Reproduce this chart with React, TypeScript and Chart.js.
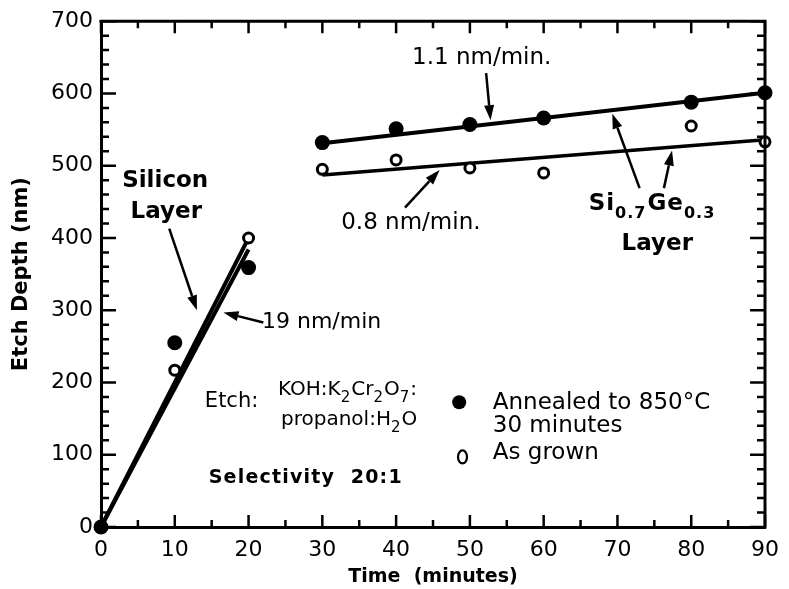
import React, { useEffect, useRef } from "react";
import { Chart, registerables } from "chart.js";

Chart.register(...registerables);

// ---- data ----
const annealedTime = [0, 10, 20, 30, 40, 50, 60, 80, 90];
const annealedDepth = [0, 255, 359, 532, 551, 557, 566, 588, 601];
const grownTime = [0, 10, 20, 30, 40, 50, 60, 80, 90];
const grownDepth = [0, 217, 400, 495, 508, 497, 490, 555, 533];

const siFitATime = [0, 20];
const siFitADepth = [0, 400];
const siFitBTime = [0, 20];
const siFitBDepth = [0, 384];
const sigeAnnealedFitTime = [30, 90];
const sigeAnnealedFitDepth = [531, 601];
const sigeGrownFitTime = [30, 90];
const sigeGrownFitDepth = [487, 536];

const xTickValues = [0, 10, 20, 30, 40, 50, 60, 70, 80, 90];
const yTickValues = [0, 100, 200, 300, 400, 500, 600, 700];

const xTitle = "Time  (minutes)";
const yTitle = "Etch Depth (nm)";
const legendAnnealed = ["Annealed to 850°C", "30 minutes"];
const legendGrown = "As grown";

const FONT = "'DejaVu Sans', sans-serif";

const toPts = (xs: number[], ys: number[]) => xs.map((x, i) => ({ x, y: ys[i] }));

type Seg = { t: string; sub?: boolean };

// annotation texts (positions in data units)
const textNotes: { x: number; y: number; text: string; size: number; bold?: boolean; align?: CanvasTextAlign; spacing?: number }[] = [
  { x: 51.6, y: 649, text: "1.1 nm/min.", size: 23 },
  { x: 42.0, y: 421, text: "0.8 nm/min.", size: 23 },
  { x: 8.7, y: 479, text: "Silicon", size: 23, bold: true },
  { x: 8.85, y: 436, text: "Layer", size: 23, bold: true },
  { x: 29.9, y: 283, text: "19 nm/min", size: 22 },
  { x: 75.4, y: 392, text: "Layer", size: 23, bold: true },
  { x: 17.7, y: 174, text: "Etch:", size: 21 },
  { x: 53.1, y: 171, text: legendAnnealed[0], size: 23, align: "left" },
  { x: 53.1, y: 140, text: legendAnnealed[1], size: 23, align: "left" },
  { x: 53.1, y: 102, text: legendGrown, size: 23, align: "left" },
  { x: 14.6, y: 68, text: "Selectivity  20:1", size: 19, bold: true, align: "left", spacing: 1.2 },
];

const richNotes: { x: number; y: number; segs: Seg[]; size: number; subSize: number; bold?: boolean; spacing?: number }[] = [
  {
    x: 66.1, y: 447, size: 23, subSize: 16, bold: true, spacing: 1,
    segs: [{ t: "Si" }, { t: "0.7", sub: true }, { t: "Ge" }, { t: "0.3", sub: true }],
  },
  {
    x: 24.0, y: 190.5, size: 20, subSize: 15,
    segs: [{ t: "KOH:K" }, { t: "2", sub: true }, { t: "Cr" }, { t: "2", sub: true }, { t: "O" }, { t: "7", sub: true }, { t: ":" }],
  },
  {
    x: 24.4, y: 149, size: 20, subSize: 15,
    segs: [{ t: "propanol:H" }, { t: "2", sub: true }, { t: "O" }],
  },
];

// arrows: tail -> head, in data units
const arrows = [
  { x1: 52.2, y1: 628, x2: 52.8, y2: 563 },
  { x1: 41.2, y1: 442, x2: 45.9, y2: 494 },
  { x1: 9.25, y1: 413, x2: 13.0, y2: 300 },
  { x1: 22.0, y1: 283, x2: 16.6, y2: 297 },
  { x1: 73.0, y1: 469, x2: 69.3, y2: 572 },
  { x1: 76.3, y1: 469, x2: 77.4, y2: 521 },
];

const legendFilled = { x: 48.55, y: 172.6 };
const legendOpen = { x: 49.0, y: 97 };

const decorPlugin = {
  id: "decor",
  afterDatasetsDraw(chart: any) {
    const ctx: any = chart.ctx;
    const xs = chart.scales.x;
    const ys = chart.scales.y;
    const { left, right, top, bottom } = chart.chartArea;
    ctx.save();
    ctx.strokeStyle = "#000";
    ctx.fillStyle = "#000";
    ctx.lineCap = "butt";

    // top & right frame
    ctx.lineWidth = 3;
    ctx.beginPath();
    ctx.moveTo(left - 1.5, top);
    ctx.lineTo(right, top);
    ctx.lineTo(right, bottom + 1.5);
    ctx.stroke();

    // inward ticks
    ctx.lineWidth = 2.5;
    for (let v = 0; v <= 90; v += 5) {
      const major = v % 10 === 0;
      const len = major ? 12 : 7;
      const px = xs.getPixelForValue(v);
      ctx.beginPath();
      ctx.moveTo(px, bottom);
      ctx.lineTo(px, bottom - len);
      ctx.moveTo(px, top);
      ctx.lineTo(px, top + len);
      ctx.stroke();
    }
    for (let v = 0; v <= 700; v += 20) {
      const major = v % 100 === 0;
      const len = major ? 15 : 8;
      const py = ys.getPixelForValue(v);
      ctx.beginPath();
      ctx.moveTo(left, py);
      ctx.lineTo(left + len, py);
      ctx.moveTo(right, py);
      ctx.lineTo(right - len, py);
      ctx.stroke();
    }

    // arrows
    for (const a of arrows) {
      const x1 = xs.getPixelForValue(a.x1);
      const y1 = ys.getPixelForValue(a.y1);
      const x2 = xs.getPixelForValue(a.x2);
      const y2 = ys.getPixelForValue(a.y2);
      const ang = Math.atan2(y2 - y1, x2 - x1);
      const hl = 15;
      const hw = 5;
      const bx = x2 - hl * Math.cos(ang);
      const by = y2 - hl * Math.sin(ang);
      ctx.lineWidth = 2.5;
      ctx.beginPath();
      ctx.moveTo(x1, y1);
      ctx.lineTo(bx, by);
      ctx.stroke();
      ctx.beginPath();
      ctx.moveTo(x2, y2);
      ctx.lineTo(bx + hw * Math.sin(ang), by - hw * Math.cos(ang));
      ctx.lineTo(bx - hw * Math.sin(ang), by + hw * Math.cos(ang));
      ctx.closePath();
      ctx.fill();
    }

    // plain texts
    ctx.textBaseline = "middle";
    for (const n of textNotes) {
      ctx.font = `${n.bold ? "bold " : ""}${n.size}px ${FONT}`;
      ctx.letterSpacing = `${n.spacing || 0}px`;
      ctx.textAlign = n.align || "center";
      ctx.fillText(n.text, xs.getPixelForValue(n.x), ys.getPixelForValue(n.y));
    }

    // texts with subscripts (left aligned)
    ctx.textAlign = "left";
    for (const r of richNotes) {
      let px = xs.getPixelForValue(r.x);
      const py = ys.getPixelForValue(r.y);
      ctx.letterSpacing = `${r.spacing || 0}px`;
      for (const s of r.segs) {
        ctx.font = `${r.bold ? "bold " : ""}${s.sub ? r.subSize : r.size}px ${FONT}`;
        ctx.fillText(s.t, px, s.sub ? py + r.size * 0.42 : py);
        px += ctx.measureText(s.t).width + (s.sub ? 1 : 0);
      }
    }
    ctx.letterSpacing = "0px";

    // legend markers
    ctx.beginPath();
    ctx.arc(xs.getPixelForValue(legendFilled.x), ys.getPixelForValue(legendFilled.y), 7, 0, Math.PI * 2);
    ctx.fill();
    ctx.lineWidth = 2.2;
    ctx.beginPath();
    ctx.ellipse(xs.getPixelForValue(legendOpen.x), ys.getPixelForValue(legendOpen.y), 4.5, 6.5, 0, 0, Math.PI * 2);
    ctx.stroke();

    ctx.restore();
  },
};

export default function App() {
  const ref = useRef<HTMLCanvasElement | null>(null);
  useEffect(() => {
    document.body.style.margin = "0";
    const canvas = ref.current;
    if (!canvas) return;
    const lineDs = (xs: number[], ys: number[], w: number) => ({
      type: "line" as const,
      data: toPts(xs, ys),
      borderColor: "#000",
      borderWidth: w,
      pointRadius: 0,
      showLine: true,
      fill: false,
      order: 2,
    });
    const chart = new Chart(canvas, {
      type: "scatter",
      data: {
        datasets: [
          lineDs(siFitATime, siFitADepth, 4),
          lineDs(siFitBTime, siFitBDepth, 4),
          lineDs(sigeAnnealedFitTime, sigeAnnealedFitDepth, 4),
          lineDs(sigeGrownFitTime, sigeGrownFitDepth, 3.5),
          {
            label: "As grown",
            data: toPts(grownTime, grownDepth),
            pointRadius: 5,
            pointBackgroundColor: "#fff",
            pointBorderColor: "#000",
            pointBorderWidth: 3,
            order: 1,
            clip: false,
          } as any,
          {
            label: "Annealed",
            data: toPts(annealedTime, annealedDepth),
            pointRadius: 7.5,
            pointBackgroundColor: "#000",
            pointBorderColor: "#000",
            pointBorderWidth: 0,
            order: 0,
            clip: false,
          } as any,
        ] as any,
      },
      options: {
        responsive: false,
        animation: false,
        layout: { padding: { top: 20, right: 17, left: 0, bottom: 0 } },
        plugins: { legend: { display: false }, tooltip: { enabled: false } },
        scales: {
          x: {
            type: "linear",
            min: 0,
            max: 90,
            afterBuildTicks: (s: any) => { s.ticks = xTickValues.map((v) => ({ value: v })); },
            afterFit: (s: any) => { s.height = 62; },
            grid: { display: false, drawTicks: false },
            border: { display: true, color: "#000", width: 3 },
            ticks: { color: "#000", font: { family: FONT, size: 22 }, padding: 10, maxRotation: 0 },
            title: { display: true, text: xTitle, color: "#000", font: { family: FONT, size: 19, weight: "bold" }, padding: { top: 0, bottom: 1 } },
          },
          y: {
            type: "linear",
            min: 0,
            max: 700,
            afterBuildTicks: (s: any) => { s.ticks = yTickValues.map((v) => ({ value: v })); },
            afterFit: (s: any) => { s.width = 101; },
            grid: { display: false, drawTicks: false },
            border: { display: true, color: "#000", width: 3 },
            ticks: { color: "#000", font: { family: FONT, size: 22 }, padding: 8 },
            title: { display: true, text: yTitle, color: "#000", font: { family: FONT, size: 21, weight: "bold" }, padding: { top: 9, bottom: 0 } },
          },
        },
      } as any,
      plugins: [decorPlugin],
    });
    return () => chart.destroy();
  }, []);
  return (
    <div style={{ width: 789, height: 589 }}>
      <canvas ref={ref} width={789} height={589} style={{ display: "block" }} />
    </div>
  );
}
